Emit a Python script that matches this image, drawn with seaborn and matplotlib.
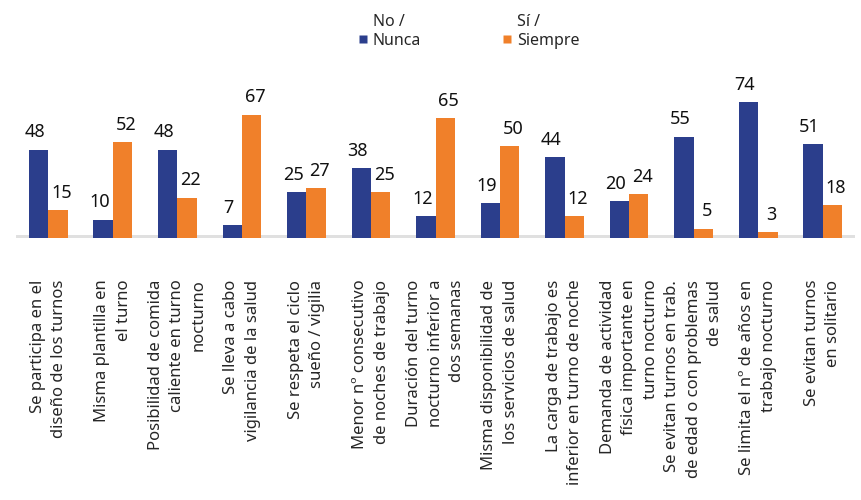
import matplotlib
matplotlib.use("Agg")
import matplotlib.pyplot as plt
import seaborn as sns
import pandas as pd
from matplotlib.lines import Line2D
from matplotlib.legend_handler import HandlerLine2D

categories = [
    "Se participa en el\ndiseño de los turnos",
    "Misma plantilla en\nel turno",
    "Posibilidad de comida\ncaliente en turno\nnocturno",
    "Se lleva a cabo\nvigilancia de la salud",
    "Se respeta el ciclo\nsueño / vigilia",
    "Menor nº consecutivo\nde noches de trabajo",
    "Duración del turno\nnocturno inferior a\ndos semanas",
    "Misma disponibilidad de\nlos servicios de salud",
    "La carga de trabajo es\ninferior en turno de noche",
    "Demanda de actividad\nfísica importante en\nturno nocturno",
    "Se evitan turnos en trab.\nde edad o con problemas\nde salud",
    "Se limita el nº de años en\ntrabajo nocturno",
    "Se evitan turnos\nen solitario",
]
series_names = ["No /\nNunca", "Sí /\nSiempre"]
no_nunca = [48, 10, 48, 7, 25, 38, 12, 19, 44, 20, 55, 74, 51]
si_siempre = [15, 52, 22, 67, 27, 25, 65, 50, 12, 24, 5, 3, 18]

colors = ["#2B3E8C", "#F0802A"]

df = pd.DataFrame({
    "categoria": categories * 2,
    "serie": [series_names[0]] * len(categories) + [series_names[1]] * len(categories),
    "valor": no_nunca + si_siempre,
})

sns.set_theme(style="white")
plt.rcParams["font.family"] = ["Noto Sans", "DejaVu Sans"]


class LowMarkerHandler(HandlerLine2D):
    def create_artists(self, legend, orig_handle, xdescent, ydescent,
                       width, height, fontsize, trans):
        artists = super().create_artists(legend, orig_handle, xdescent, ydescent,
                                         width, height, fontsize, trans)
        for a in artists:
            a.set_ydata([y - 0.45 * fontsize for y in a.get_ydata()])
        return artists


fig = plt.figure(figsize=(8.61, 5), dpi=100)
ax = fig.add_axes([16 / 861, 262 / 500, 839 / 861, 184 / 500])

sns.barplot(data=df, x="categoria", y="valor", hue="serie",
            palette=colors, width=0.6, ax=ax, legend=False,
            saturation=1, edgecolor="none")

for cont, dx in zip(ax.containers, (-2.5, 2.5)):
    texts = ax.bar_label(cont, padding=6, fontsize=13, color="#111111")
    for t in texts:
        t.xyann = (dx, 6)

ax.set_ylim(0, 100)
ax.set_xlim(-0.5, len(categories) - 0.5)
ax.set_xlabel("")
ax.set_ylabel("")
ax.set_yticks([])
for s in ax.spines.values():
    s.set_visible(False)
ax.axhline(0, color="#E0E0E0", lw=5, zorder=0)

ax.set_xticks(range(len(categories)))
ax.set_xticklabels(categories, rotation=90, fontsize=12, va="top", ha="center",
                   linespacing=1.45)
for lbl in ax.get_xticklabels():
    lbl.set_multialignment("right")
ax.tick_params(axis="x", length=0, pad=30)

handles = [Line2D([0], [0], marker="s", color="none", markerfacecolor=c,
                  markeredgecolor="none", markersize=6) for c in colors]
fig.legend(handles, series_names, loc="upper center", ncol=2,
           bbox_to_anchor=(468 / 861, 1.0), frameon=False, fontsize=11.5,
           handletextpad=0.2, columnspacing=5, handlelength=0.8,
           labelspacing=0.2,
           handler_map={Line2D: LowMarkerHandler()})

fig.savefig("out.png", dpi=100)
